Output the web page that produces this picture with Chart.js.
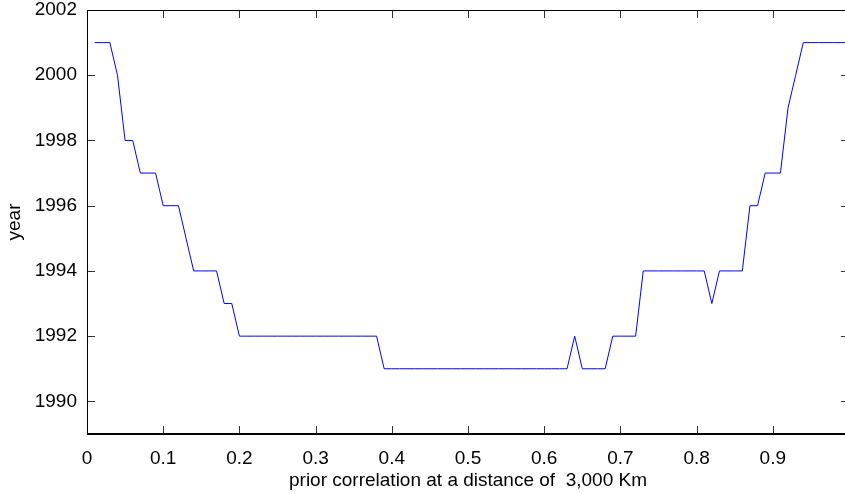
<!DOCTYPE html>
<html>
<head>
<meta charset="utf-8">
<script src="https://cdn.jsdelivr.net/npm/chart.js@4"></script>
<style>
  html, body { margin: 0; padding: 0; background: #fff; overflow: hidden; }
  #wrap { width: 860px; height: 494px; }
</style>
</head>
<body>
<div id="wrap"><canvas id="chart" width="860" height="494"></canvas></div>
<script>
// prior correlation (x) vs year (y)
const correlation = [
  0.01, 0.02, 0.03, 0.04, 0.05, 0.06, 0.07, 0.08, 0.09, 0.10,
  0.11, 0.12, 0.13, 0.14, 0.15, 0.16, 0.17, 0.18, 0.19, 0.20,
  0.21, 0.22, 0.23, 0.24, 0.25, 0.26, 0.27, 0.28, 0.29, 0.30,
  0.31, 0.32, 0.33, 0.34, 0.35, 0.36, 0.37, 0.38, 0.39, 0.40,
  0.41, 0.42, 0.43, 0.44, 0.45, 0.46, 0.47, 0.48, 0.49, 0.50,
  0.51, 0.52, 0.53, 0.54, 0.55, 0.56, 0.57, 0.58, 0.59, 0.60,
  0.61, 0.62, 0.63, 0.64, 0.65, 0.66, 0.67, 0.68, 0.69, 0.70,
  0.71, 0.72, 0.73, 0.74, 0.75, 0.76, 0.77, 0.78, 0.79, 0.80,
  0.81, 0.82, 0.83, 0.84, 0.85, 0.86, 0.87, 0.88, 0.89, 0.90,
  0.91, 0.92, 0.93, 0.94, 0.95, 0.96, 0.97, 0.98, 0.99, 1.00
];
const years = [
  2001, 2001, 2001, 2000, 1998, 1998, 1997, 1997, 1997, 1996,
  1996, 1996, 1995, 1994, 1994, 1994, 1994, 1993, 1993, 1992,
  1992, 1992, 1992, 1992, 1992, 1992, 1992, 1992, 1992, 1992,
  1992, 1992, 1992, 1992, 1992, 1992, 1992, 1992, 1991, 1991,
  1991, 1991, 1991, 1991, 1991, 1991, 1991, 1991, 1991, 1991,
  1991, 1991, 1991, 1991, 1991, 1991, 1991, 1991, 1991, 1991,
  1991, 1991, 1991, 1992, 1991, 1991, 1991, 1991, 1992, 1992,
  1992, 1992, 1994, 1994, 1994, 1994, 1994, 1994, 1994, 1994,
  1994, 1993, 1994, 1994, 1994, 1994, 1996, 1996, 1997, 1997,
  1997, 1999, 2000, 2001, 2001, 2001, 2001, 2001, 2001, 2001
];

const xTicks = [0, 0.1, 0.2, 0.3, 0.4, 0.5, 0.6, 0.7, 0.8, 0.9, 1];
const xTickLabels = ['0', '0.1', '0.2', '0.3', '0.4', '0.5', '0.6', '0.7', '0.8', '0.9', '1'];
const yTicks = [1990, 1992, 1994, 1996, 1998, 2000, 2002];

const FONT = 'Liberation Sans, Arial, sans-serif';

// box around the plot with inward tick marks on all four sides
const boxPlugin = {
    id: 'box',
    afterDatasetsDraw(chart) {
        const {ctx, chartArea: a, scales: {x, y}} = chart;
        const tl = 8;
        ctx.save();
        ctx.strokeStyle = '#333';
        ctx.lineWidth = 1;
        ctx.beginPath();
        xTicks.forEach(v => {
            const px = Math.round(x.getPixelForValue(v)) + 0.5;
            ctx.moveTo(px, a.bottom); ctx.lineTo(px, a.bottom - tl);
            ctx.moveTo(px, a.top); ctx.lineTo(px, a.top + tl);
        });
        yTicks.forEach(v => {
            const py = Math.round(y.getPixelForValue(v)) + 0.5;
            ctx.moveTo(a.left, py); ctx.lineTo(a.left + tl, py);
            ctx.moveTo(a.right, py); ctx.lineTo(a.right - tl, py);
        });
        ctx.stroke();

        ctx.strokeStyle = '#000';
        ctx.lineWidth = 1;
        ctx.strokeRect(a.left + 0.5, a.top + 0.5, a.right - a.left, a.bottom - a.top);
        ctx.lineWidth = 2;
        ctx.beginPath();
        ctx.moveTo(a.left, a.bottom); ctx.lineTo(a.right, a.bottom);
        ctx.stroke();
        ctx.restore();
    }
};

new Chart(document.getElementById('chart'), {
    type: 'line',
    data: {
        datasets: [{
            data: correlation.map((c, i) => ({x: c, y: years[i]})),
            borderColor: '#0000ff',
            borderWidth: 1,
            pointRadius: 0,
            tension: 0,
            fill: false
        }]
    },
    options: {
        responsive: false,
        animation: false,
        layout: { padding: { top: 10, right: 11, left: 0, bottom: 0 } },
        plugins: { legend: { display: false }, tooltip: { enabled: false } },
        scales: {
            x: {
                type: 'linear',
                min: 0,
                max: 1,
                grid: { display: false, drawTicks: false },
                border: { display: false },
                afterBuildTicks: s => { s.ticks = xTicks.map(v => ({value: v})); },
                afterFit: s => {
                    s.height = 60;
                    s.paddingLeft = 0; s.paddingRight = 0;
                    s.paddingTop = 0; s.paddingBottom = 0;
                },
                ticks: {
                    color: '#000',
                    font: { family: FONT, size: 19 },
                    padding: 13,
                    maxRotation: 0,
                    autoSkip: false,
                    callback: (v, i) => xTickLabels[i]
                },
                title: {
                    display: true,
                    text: 'prior correlation at a distance of  3,000 Km',
                    color: '#000',
                    font: { family: FONT, size: 19 },
                    padding: { top: 0, bottom: 2 }
                }
            },
            y: {
                type: 'linear',
                min: 1989,
                max: 2002,
                grid: { display: false, drawTicks: false },
                border: { display: false },
                afterBuildTicks: s => { s.ticks = yTicks.map(v => ({value: v})); },
                afterFit: s => {
                    s.width = 87;
                    s.paddingLeft = 0; s.paddingRight = 0;
                    s.paddingTop = 0; s.paddingBottom = 0;
                },
                ticks: {
                    color: '#000',
                    font: { family: FONT, size: 19 },
                    padding: 10,
                    autoSkip: false,
                    callback: v => String(v)
                },
                title: {
                    display: true,
                    text: 'year',
                    color: '#000',
                    font: { family: FONT, size: 19 },
                    padding: { top: 3, bottom: 0 }
                }
            }
        }
    },
    plugins: [boxPlugin]
});
</script>
</body>
</html>
